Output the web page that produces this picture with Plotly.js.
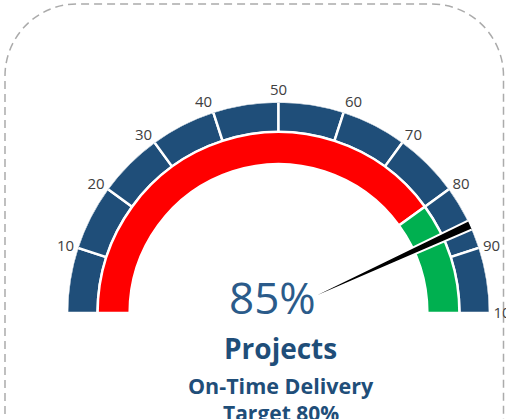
<!DOCTYPE html>
<html><head><meta charset="utf-8">
<script src="https://cdn.plot.ly/plotly-3.0.1.min.js"></script>
<style>html,body{margin:0;padding:0;background:#fff}#chart{width:506px;height:419px}</style>
</head><body><div id="chart"></div>
<script>
// ---- data ----
const scaleMax = 100;
const bandStarts = [0, 10, 20, 30, 40, 50, 60, 70, 80, 90];
const bandWidths = [10, 10, 10, 10, 10, 10, 10, 10, 10, 10];
const tickValues = [10, 20, 30, 40, 50, 60, 70, 80, 90, 100];
const tickLabels = ['10', '20', '30', '40', '50', '60', '70', '80', '90', '100'];
const zoneStarts = [0, 80];
const zoneWidths = [80, 20];
const zoneColors = ['#FF0000', '#00B050'];
const actualValue = 85;
const targetValue = 80;
const titleMain = 'Projects';
const titleSub = 'On-Time Delivery';

// ---- style ----
const W = 506, H = 419;
const needleLead = 1.3, needleWidth = 1.45;
const deg = v => v * 180 / scaleMax;
const mid = (s, w) => s.map((v, i) => deg(v + w[i] / 2));

const sepLine = {color: '#FFFFFF', width: 2.5};
const traces = [
  {type: 'barpolar', theta: mid(bandStarts, bandWidths), width: bandWidths.map(deg),
   base: bandStarts.map(() => 180.5), r: bandStarts.map(() => 30.5),
   marker: {color: '#1F4E79', line: sepLine}, hoverinfo: 'skip'},
  {type: 'barpolar', theta: mid(zoneStarts, zoneWidths), width: zoneWidths.map(deg),
   base: zoneStarts.map(() => 148.5), r: zoneStarts.map(() => 32),
   marker: {color: zoneColors, line: sepLine}, hoverinfo: 'skip'},
  {type: 'barpolar', theta: [deg(actualValue + needleLead)], width: [deg(needleWidth)],
   base: [36], r: [175.5],
   marker: {color: '#000000', line: {color: '#FFFFFF', width: 2}}, hoverinfo: 'skip'}
];

function px(x, y) { return (x / W).toFixed(5) + ',' + (1 - y / H).toFixed(5); }
const L = 5, R = 503.5, T = 4, B = 440, rc = 72, k = 0.552 * rc;
const borderPath = 'M' + px(L, B) + ' L' + px(L, T + rc) +
  ' C' + px(L, T + rc - k) + ' ' + px(L + rc - k, T) + ' ' + px(L + rc, T) +
  ' L' + px(R - rc, T) +
  ' C' + px(R - rc + k, T) + ' ' + px(R, T + rc - k) + ' ' + px(R, T + rc) +
  ' L' + px(R, B);

const blue = '#1F4E79';
const layout = {
  width: W, height: H, margin: {l: 0, r: 0, t: 0, b: 0},
  paper_bgcolor: '#FFFFFF', showlegend: false,
  polar: {
    domain: {x: [68 / W, 489 / W], y: [(H - 313) / H, (H - 102.5) / H]},
    sector: [0, 180], hole: 0, bargap: 0, bgcolor: 'rgba(0,0,0,0)',
    radialaxis: {visible: false, range: [0, 210]},
    angularaxis: {rotation: 180, direction: 'clockwise', thetaunit: 'degrees',
      tickmode: 'array', tickvals: tickValues.map(deg), ticktext: tickLabels,
      showline: false, showgrid: false, ticks: 'outside', ticklen: 1, tickcolor: 'rgba(0,0,0,0)',
      tickfont: {family: 'Open Sans', size: 15, color: '#404040'}}
  },
  shapes: [{type: 'path', xref: 'paper', yref: 'paper', path: borderPath,
    line: {color: '#ABABAB', width: 1.5, dash: '8px,5px'}, layer: 'below'}],
  annotations: [
    {text: actualValue + '%', x: 272.5 / W, y: 1 - 297 / H, xref: 'paper', yref: 'paper',
     showarrow: false, xanchor: 'center', yanchor: 'middle',
     font: {family: 'Open Sans', size: 44, color: '#2B5B8A'}},
    {text: '<b>' + titleMain + '</b>', x: 280.5 / W, y: 1 - 348 / H, xref: 'paper', yref: 'paper',
     showarrow: false, xanchor: 'center', yanchor: 'middle',
     font: {family: 'Open Sans', size: 28, color: blue}},
    {text: '<b>' + titleSub + '</b>', x: 280.5 / W, y: 1 - 385 / H, xref: 'paper', yref: 'paper',
     showarrow: false, xanchor: 'center', yanchor: 'middle',
     font: {family: 'Open Sans', size: 21.5, color: blue}},
    {text: '<b>Target ' + targetValue + '%</b>', x: 281 / W, y: 1 - 413 / H, xref: 'paper', yref: 'paper',
     showarrow: false, xanchor: 'center', yanchor: 'middle',
     font: {family: 'Open Sans', size: 21, color: blue}}
  ]
};
Plotly.newPlot('chart', traces, layout, {displayModeBar: false, staticPlot: true});
</script></body></html>
